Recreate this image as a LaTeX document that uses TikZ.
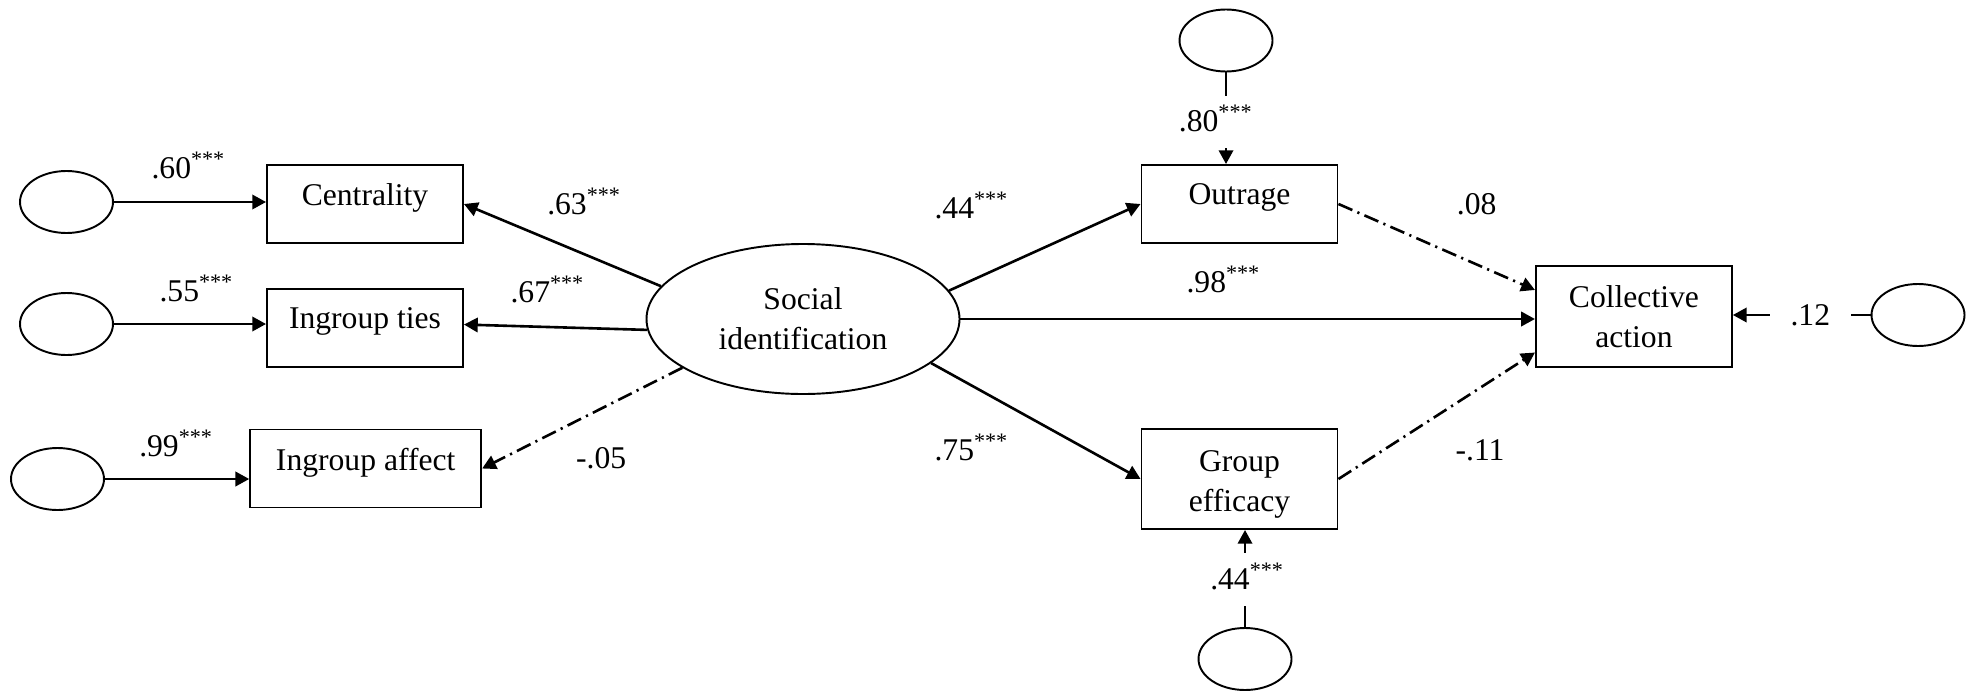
\documentclass[tikz,border=0pt]{standalone}
\usepackage{fontspec}
\setmainfont{Liberation Serif}
\usetikzlibrary{arrows.meta,shapes.geometric}

\newlength{\du}
\setlength{\du}{0.3636pt}
\newcommand{\threestar}{\textsuperscript{***}}

\tikzset{
  var/.style={draw, line width=0.7pt, rectangle, minimum width=196\du, minimum height=78\du, inner sep=0pt, align=center},
  one/.style={var, text depth=7pt},
  lat/.style={draw, line width=0.7pt, ellipse, inner sep=0pt, align=center},
  err/.style={lat, minimum width=93\du, minimum height=62\du},
  eff/.style={line width=0.95pt, -{Triangle[length=5pt,width=5.2pt]}},
  ns/.style={eff, dash pattern=on 5.5pt off 2pt on 0.8pt off 2pt},
  coef/.style={anchor=base west, inner sep=0pt},
  cut/.style={anchor=base, fill=white, inner xsep=0pt, inner ysep=4pt, text height=9pt, text depth=2pt},
}

\begin{document}
\begin{tikzpicture}[font=\fontsize{11.5}{14.5}\selectfont]
\pgftransformxscale{1.000000}
\pgftransformyscale{-1.000000}
\useasboundingbox (0\du,0\du) rectangle (1972\du,691\du);
% indicators of social identification
\node[one] (cent) at (365\du,204\du) {Centrality};
\node[one] (ties) at (365\du,328\du) {Ingroup ties};
\node[one, minimum width=231\du] (aff) at (365.7\du,468.5\du) {Ingroup affect};
\node[lat, minimum width=313\du, minimum height=150\du] (soc) at (803\du,319\du) {Social\\identification};
% mediators and outcome
\node[one] (outr) at (1239.5\du,204\du) {Outrage};
\node[var, minimum height=100\du] (geff) at (1239.5\du,479\du) {\rule{0pt}{11.3pt}Group\\efficacy};
\node[var, minimum height=101.6\du] (ca) at (1633.9\du,316.5\du) {Collective\\action};
% error terms
\node[err] (e1) at (66.5\du,202\du) {};
\node[err] (e2) at (66.5\du,324\du) {};
\node[err] (e3) at (57.5\du,479\du) {};
\node[err] (e4) at (1226\du,40.5\du) {};
\node[err] (e5) at (1245\du,659\du) {};
\node[err] (e6) at (1918\du,315\du) {};
% paths
\draw[eff] (e1) -- (e1 -| cent.west);
\draw[eff] (e2) -- (e2 -| ties.west);
\draw[eff] (e3) -- (e3 -| aff.west);
\draw[eff] (soc.167) -- (cent.east);
\draw[eff] (soc.184) -- (ties.2.5);
\draw[ns] (soc.202) -- (aff.east);
\draw[eff] (soc.11) -- (outr.west);
\draw[eff] (soc.-19.5) -- (geff.west);
\draw[eff] (soc.east) -- (soc.east -| ca.west);
\draw[ns] (outr.east) -- (ca.165);
\draw[ns] (geff.east) -- (ca.200);
\draw[eff] (e4) -- (e4 |- outr.north);
\draw[eff] (e5) -- (e5 |- geff.south);
\draw[eff] (e6) -- (e6 -| ca.east);
% coefficients
\node[coef] (l60) at (151\du,178\du) {.60\threestar};
\node[coef] (l55) at (159\du,301.7\du) {.55\threestar};
\node[coef] (l99) at (138.7\du,456.7\du) {.99\threestar};
\node[coef] (l63) at (546.7\du,214\du) {.63\threestar};
\node[coef] (l67) at (510\du,302.7\du) {.67\threestar};
\node[coef] (l05) at (575.6\du,468.3\du) {-.05};
\node[coef] (l44a) at (934\du,218.3\du) {.44\threestar};
\node[coef] (l98) at (1186\du,292\du) {.98\threestar};
\node[coef] (l75) at (934\du,460\du) {.75\threestar};
\node[coef] (l08) at (1456.4\du,214.3\du) {.08};
\node[coef] (l11) at (1455\du,460\du) {-.11};
\node[cut] (l80) at (1216\du,131.5\du) {.80\threestar};
\node[cut] (l44b) at (1247.3\du,589\du) {.44\threestar};
\node[cut, inner xsep=7.5pt] (l12) at (1810.3\du,325\du) {.12};
\end{tikzpicture}
\end{document}
